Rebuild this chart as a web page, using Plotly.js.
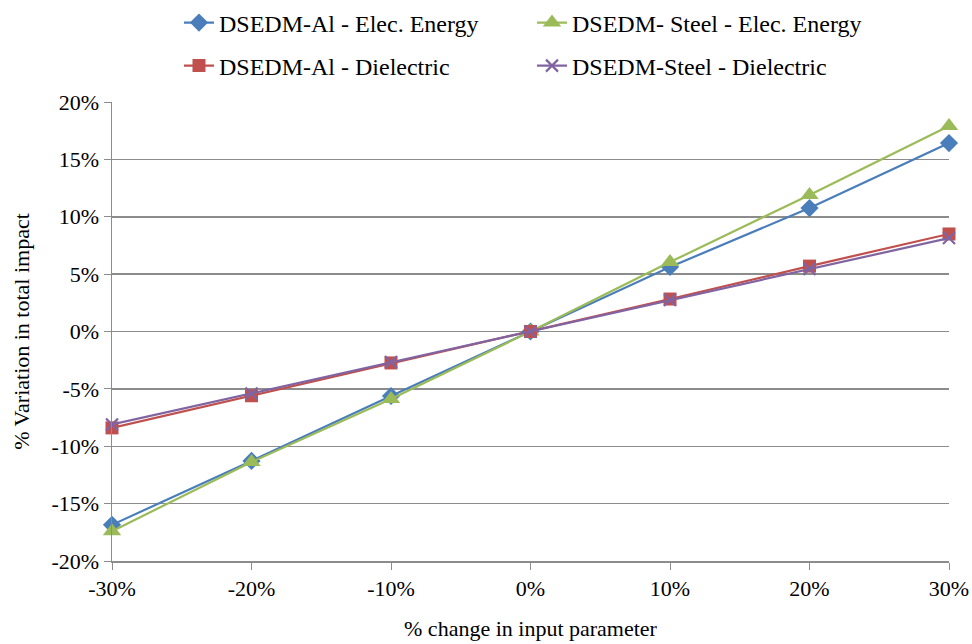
<!DOCTYPE html>
<html><head><meta charset="utf-8">
<script src="https://cdn.plot.ly/plotly-3.0.1.min.js"></script>
<style>html,body{margin:0;padding:0;background:#fff}</style>
</head><body><div id="chart" style="width:972px;height:644px"></div>
<script>
const xVals = [-0.3, -0.2, -0.1, 0, 0.1, 0.2, 0.3];
const xTickText = ['-30%', '-20%', '-10%', '0%', '10%', '20%', '30%'];
const yTickVals = [-0.2, -0.15, -0.1, -0.05, 0, 0.05, 0.1, 0.15, 0.2];
const yTickText = ['-20%', '-15%', '-10%', '-5%', '0%', '5%', '10%', '15%', '20%'];
const alElec = [-0.1685, -0.1128, -0.0562, 0, 0.0562, 0.1076, 0.1642];
const steelElec = [-0.174, -0.1137, -0.0588, 0, 0.0605, 0.119, 0.179];
const alDiel = [-0.084, -0.056, -0.0274, 0, 0.0283, 0.057, 0.085];
const steelDiel = [-0.081, -0.054, -0.0266, 0, 0.0274, 0.0544, 0.0814];
const names = ['DSEDM-Al - Elec. Energy', 'DSEDM- Steel - Elec. Energy', 'DSEDM-Al - Dielectric', 'DSEDM-Steel - Dielectric'];

const mk = (y, name, color, symbol, size, legendId, extra) => ({
  x: xVals, y: y, name: name, type: 'scatter', mode: 'lines+markers', cliponaxis: false,
  legend: legendId,
  line: {color: color, width: 2.2},
  marker: Object.assign({symbol: symbol, size: size, color: color}, extra || {})
});
const data = [
  mk(alElec, names[0], '#4A7EBB', 'diamond', 14, 'legend'),
  mk(steelElec, names[1], '#9BBB59', 'triangle-up', 16, 'legend'),
  mk(alDiel, names[2], '#C0504D', 'square', 13, 'legend2'),
  mk(steelDiel, names[3], '#8064A2', 'x-thin', 12, 'legend2', {line: {color: '#8064A2', width: 2.2}})
];
const FAM = 'Liberation Serif, Times New Roman, serif';
const font = {family: FAM, size: 22, color: '#000'};
const lfont = {family: FAM, size: 24, color: '#000'};
const legBase = {orientation: 'h', xref: 'container', yref: 'container', xanchor: 'left', yanchor: 'middle',
  entrywidth: 308, entrywidthmode: 'pixels', font: lfont, bgcolor: 'rgba(0,0,0,0)'};
const layout = {
  width: 972, height: 644,
  margin: {l: 112, r: 23, t: 102, b: 83},
  paper_bgcolor: '#fff', plot_bgcolor: '#fff',
  font: font,
  showlegend: true,
  legend: Object.assign({}, legBase, {x: 179 / 972, y: 1 - 23 / 644}),
  legend2: Object.assign({}, legBase, {x: 179 / 972, y: 1 - 66 / 644}),
  xaxis: {range: [-0.3, 0.3], tickvals: xVals, ticktext: xTickText, showgrid: false, zeroline: false,
    showline: true, linecolor: '#8c8c8c', linewidth: 1.5, ticks: 'outside', ticklen: 7, tickcolor: '#8c8c8c',
    tickfont: font, title: {text: '% change in input parameter', font: font, standoff: 20}},
  yaxis: {range: [-0.2, 0.2], tickvals: yTickVals, ticktext: yTickText, showgrid: true, gridcolor: '#8c8c8c', gridwidth: 1.5,
    zeroline: false, showline: true, linecolor: '#8c8c8c', linewidth: 1.5, ticks: 'outside', ticklen: 7, tickcolor: '#8c8c8c',
    tickfont: font, title: {text: '% Variation in total impact', font: font, standoff: 15}}
};
Plotly.newPlot('chart', data, layout, {displayModeBar: false, staticPlot: true});
</script></body></html>
